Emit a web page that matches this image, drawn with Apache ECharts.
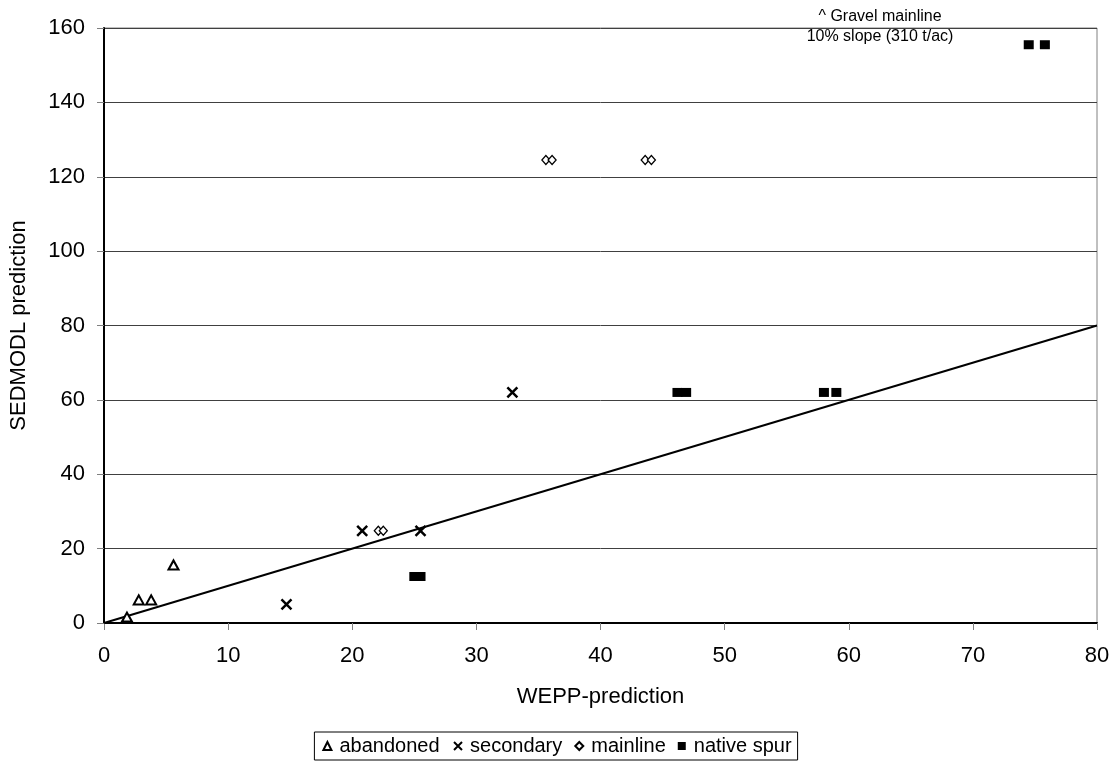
<!DOCTYPE html>
<html><head><meta charset="utf-8">
<script src="https://cdn.jsdelivr.net/npm/echarts@6/dist/echarts.min.js"></script>
<style>html,body{margin:0;padding:0;background:#fff}#c{width:1114px;height:763px}</style>
</head><body><div id="c"></div>
<script>
const abandoned = [[1.85,1.6],[2.8,6.2],[3.8,6.2],[5.6,15.6]];
const secondary = [[14.7,5],[20.8,24.8],[25.5,24.8],[32.9,62]];
const mainline = [[22.1,24.8],[22.5,24.8],[35.6,124.5],[36.1,124.5],[43.6,124.5],[44.1,124.5]];
const nativeSpur = [[25.0,12.5],[25.5,12.5],[46.2,62],[46.9,62],[58.0,62],[59.0,62],[74.5,155.5],[75.8,155.5]];
const refLine = [[0,0],[80,80]];
const xTicks = [0,10,20,30,40,50,60,70,80];
const yTicks = [0,20,40,60,80,100,120,140,160];
const annotation = ['^ Gravel mainline', '10% slope (310 t/ac)'];

const font = 'Liberation Sans, Arial, sans-serif';
const chart = echarts.init(document.getElementById('c'));
const crossPath = 'path://M0,0L10,10M10,0L0,10';
chart.setOption({
  animation:false,
  backgroundColor:'#fff',
  grid:{left:104,right:17,top:28,bottom:140,show:true,borderColor:'#808080',borderWidth:1},
  xAxis:{type:'value',min:0,max:80,interval:10,
    name:'WEPP-prediction',nameLocation:'middle',nameGap:63,
    nameTextStyle:{fontFamily:font,fontSize:22,color:'#000'},
    axisLine:{show:true,onZero:false,lineStyle:{color:'#000',width:2}},
    axisTick:{show:true,length:7,lineStyle:{color:'#808080'}},
    axisLabel:{fontFamily:font,fontSize:22,color:'#000',margin:22,formatter:v=>xTicks.includes(v)?String(v):''},
    splitLine:{show:false}},
  yAxis:{type:'value',min:0,max:160,interval:20,
    name:'SEDMODL prediction',nameLocation:'middle',nameGap:74,
    nameTextStyle:{fontFamily:font,fontSize:22,color:'#000'},
    axisLine:{show:true,onZero:false,lineStyle:{color:'#000',width:2}},
    axisTick:{show:true,length:7,lineStyle:{color:'#808080'}},
    axisLabel:{fontFamily:font,fontSize:22,color:'#000',margin:19,formatter:v=>yTicks.includes(v)?String(v):''},
    splitLine:{show:true,lineStyle:{color:'#404040',width:1}}},
  legend:{bottom:3,left:'center',show:true,
    data:['abandoned','secondary','mainline','native spur'],
    borderColor:'#000',borderWidth:1,padding:[4,6,4,8],itemGap:12,itemWidth:8,itemHeight:8,
    textStyle:{fontFamily:font,fontSize:20,color:'#000',padding:[0,0,0,3]}},
  graphic:[
    {type:'text',x:880,y:7,style:{text:annotation[0]+'\n'+annotation[1],font:'16px '+font,fill:'#000',align:'center',verticalAlign:'top',lineHeight:20}}
  ],
  series:[
    {name:'ref',type:'line',data:refLine,symbol:'none',lineStyle:{color:'#000',width:2},silent:true,z:1},
    {name:'abandoned',type:'scatter',data:abandoned,symbol:'triangle',symbolSize:[10,9],
      itemStyle:{color:'#fff',borderColor:'#000',borderWidth:2,opacity:1},z:3},
    {name:'secondary',type:'scatter',data:secondary,symbol:crossPath,symbolSize:10,
      itemStyle:{color:'none',borderColor:'#000',borderWidth:2.5,opacity:1},z:3},
    {name:'mainline',type:'scatter',data:mainline,symbol:'diamond',symbolSize:[8,9],
      itemStyle:{color:'#fff',borderColor:'#000',borderWidth:1.3,opacity:1},z:3},
    {name:'native spur',type:'scatter',data:nativeSpur,symbol:'rect',symbolSize:[10,9],
      itemStyle:{color:'#000',opacity:1},z:3}
  ]
});
</script></body></html>
